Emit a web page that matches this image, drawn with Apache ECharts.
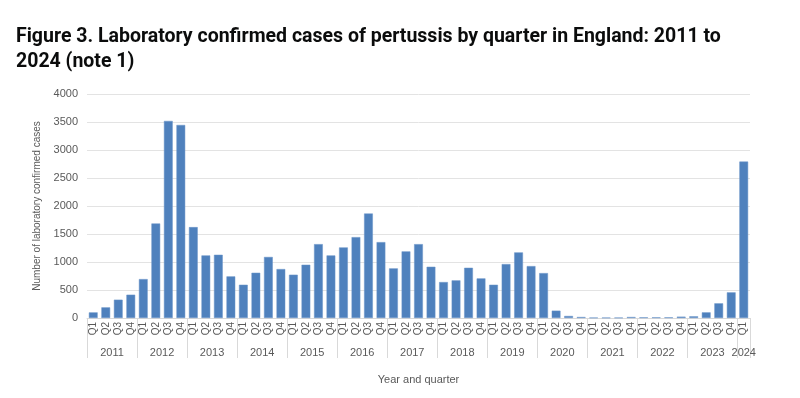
<!DOCTYPE html>
<html>
<head>
<meta charset="utf-8">
<script src="https://cdn.jsdelivr.net/npm/echarts@6/dist/echarts.min.js"></script>
<style>
    html, body { margin: 0; padding: 0; background: #fff; }
    #chart { width: 800px; height: 398px; }
</style>
</head>
<body>
<div id="chart"></div>
<script>
// 年份与季度
const years = ['2011', '2012', '2013', '2014', '2015', '2016', '2017', '2018', '2019', '2020', '2021', '2022', '2023', '2024'];
const quarters = ['Q1', 'Q2', 'Q3', 'Q4'];

// 每季度实验室确诊病例数 (2011 Q1 - 2024 Q1)
const cases = [
    100, 190, 327, 416,
    695, 1688, 3519, 3447,
    1623, 1117, 1129, 743,
    594, 808, 1090, 874,
    773, 951, 1319, 1117,
    1260, 1444, 1866, 1355,
    886, 1189, 1319, 915,
    642, 672, 897, 707,
    594, 963, 1171, 927,
    802, 131, 36, 18,
    6, 6, 6, 18,
    12, 12, 12, 24,
    30, 101, 262, 458,
    2793
];

// 坐标轴刻度
const yTicks = [0, 500, 1000, 1500, 2000, 2500, 3000, 3500, 4000];

// 季度标签
const quarterLabels = cases.map((v, i) => quarters[i % 4]);

// 年份轴：半季度分辨率的点，用于居中年份标签和分隔线
const halfSlots = [];
for (let i = 0; i <= cases.length * 2; i++) {
    halfSlots.push(i % 8 === 4 ? years[Math.floor(i / 8)] : (i === cases.length * 2 - 1 ? years[years.length - 1] : ''));
}

const chart = echarts.init(document.getElementById('chart'));

chart.setOption({
    backgroundColor: '#ffffff',
    animation: false,
    title: {
        text: 'Figure 3. Laboratory confirmed cases of pertussis by quarter in England: 2011 to\n2024 (note 1)',
        left: 11,
        top: 20,
        textStyle: {
            fontFamily: 'Roboto',
            fontWeight: 'bold',
            fontSize: 19.5,
            lineHeight: 25,
            color: '#0b0c0c'
        }
    },
    grid: {
        left: 87,
        right: 50,
        top: 94,
        bottom: 80
    },
    xAxis: [
        {
            type: 'category',
            data: quarterLabels,
            name: 'Year and quarter',
            nameLocation: 'middle',
            nameGap: 56,
            nameTextStyle: { fontSize: 11, color: '#595959', fontFamily: 'Arial' },
            axisLine: { lineStyle: { color: '#d9d9d9' } },
            axisTick: { show: false },
            axisLabel: {
                interval: 0,
                rotate: 90,
                margin: 4,
                fontSize: 10,
                color: '#595959',
                fontFamily: 'Arial'
            }
        },
        {
            type: 'category',
            position: 'bottom',
            boundaryGap: false,
            data: halfSlots,
            axisLine: { show: false },
            axisTick: {
                show: true,
                length: 40,
                interval: (i) => i % 8 === 0 || i === cases.length * 2,
                lineStyle: { color: '#d9d9d9' }
            },
            axisLabel: {
                interval: (i, v) => v !== '',
                margin: 29,
                fontSize: 11,
                color: '#595959',
                fontFamily: 'Arial'
            }
        }
    ],
    yAxis: {
        type: 'value',
        min: yTicks[0],
        max: yTicks[yTicks.length - 1],
        interval: 500,
        name: 'Number of laboratory confirmed cases',
        nameLocation: 'middle',
        nameGap: 44,
        nameTextStyle: { fontSize: 10, color: '#595959', fontFamily: 'Arial' },
        axisLine: { show: false },
        axisTick: { show: false },
        axisLabel: {
            fontSize: 11,
            color: '#595959',
            margin: 9,
            fontFamily: 'Arial',
            formatter: (v) => String(v)
        },
        splitLine: { lineStyle: { color: '#e3e3e3', width: 1 } }
    },
    series: [
        {
            type: 'bar',
            xAxisIndex: 0,
            data: cases,
            barCategoryGap: '30%',
            itemStyle: { color: '#4f81bd', borderColor: '#6b95c8', borderWidth: 0.5 }
        }
    ]
});
</script>
</body>
</html>
